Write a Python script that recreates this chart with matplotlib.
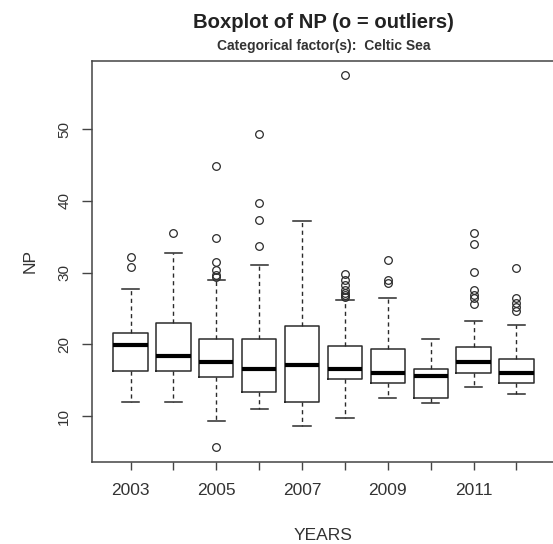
import matplotlib
matplotlib.use("Agg")
import matplotlib.pyplot as plt

plt.rcParams["font.family"] = ["Liberation Sans", "DejaVu Sans"]

# five-number summaries per year
years = ["2003", "2004", "2005", "2006", "2007", "2008", "2009", "2010", "2011", "2012"]
whislo = [12.0, 12.0, 9.35, 11.0, 8.65, 9.7, 12.55, 11.8, 14.0, 13.0]
q1 = [16.3, 16.3, 15.4, 13.4, 11.9, 15.1, 14.6, 12.55, 16.0, 14.6]
med = [19.9, 18.4, 17.5, 16.6, 17.1, 16.6, 16.0, 15.6, 17.5, 16.0]
q3 = [21.6, 23.0, 20.7, 20.7, 22.6, 19.8, 19.4, 16.5, 19.6, 17.9]
whishi = [27.7, 32.7, 29.0, 31.1, 37.2, 26.2, 26.5, 20.7, 23.2, 22.7]
fliers = [
    [30.7, 32.1],
    [35.5],
    [5.7, 29.4, 29.7, 30.3, 31.4, 34.8, 44.9],
    [33.7, 37.3, 39.7, 49.3],
    [],
    [26.6, 26.9, 27.1, 27.5, 28.2, 28.9, 29.8, 57.5],
    [28.6, 28.9, 31.7],
    [],
    [25.6, 26.4, 26.9, 27.5, 30.1, 34.0, 35.5],
    [24.6, 25.2, 25.8, 26.4, 30.6],
]

stats = [dict(label=y, whislo=a, q1=b, med=c, q3=d, whishi=e, fliers=f)
         for y, a, b, c, d, e, f in zip(years, whislo, q1, med, q3, whishi, fliers)]

W, H = 553, 544
fig = plt.figure(figsize=(W / 100, H / 100), dpi=100)
# plot region runs just past the right edge of the canvas
ax = fig.add_axes([92 / W, 1 - 462 / H, (555 - 92) / W, (462 - 61) / H])

ink = "#2b2b2b"
pos = list(range(1, len(years) + 1))
ax.bxp(stats, positions=pos, widths=0.8, capwidths=0.4,
       boxprops=dict(color=ink, lw=1.1),
       medianprops=dict(color="black", lw=3, solid_capstyle="butt"),
       whiskerprops=dict(color=ink, lw=1.0, linestyle=(0, (3, 2.5))),
       capprops=dict(color=ink, lw=1.1),
       flierprops=dict(marker="o", mfc="none", mec=ink, ms=5.5, mew=0.9))

ax.set_xlim(0.1, 10.9)
ax.set_ylim(3.59, 59.48)
ax.set_xticks(pos)
ax.set_xticklabels([y if i % 2 == 0 else "" for i, y in enumerate(years)])
ax.set_yticks([10, 20, 30, 40, 50])
ax.tick_params(axis="x", length=6, width=1, color="#444", labelsize=12.5,
               labelcolor="#333", pad=9)
ax.tick_params(axis="y", length=7, width=1, color="#444", labelsize=11,
               labelcolor="#333", pad=8, labelrotation=90)
for t in ax.get_yticklabels():
    t.set_va("center")
for s in ax.spines.values():
    s.set_color("#444")
    s.set_linewidth(1.1)

ax.set_xlabel("YEARS", fontsize=12.5, color="#333", labelpad=22)
ax.set_ylabel("NP", fontsize=12.5, color="#333", labelpad=14)

cx = (92 + 555) / 2 / W
fig.text(cx, 1 - 22 / H, "Boxplot of NP (o = outliers)", ha="center", va="center",
         fontsize=14.6, fontweight="bold", color="#222")
fig.text(cx, 1 - 46 / H, "Categorical factor(s):  Celtic Sea", ha="center", va="center",
         fontsize=10, fontweight="bold", color="#333")

fig.savefig("out.png", dpi=100, facecolor="white")
